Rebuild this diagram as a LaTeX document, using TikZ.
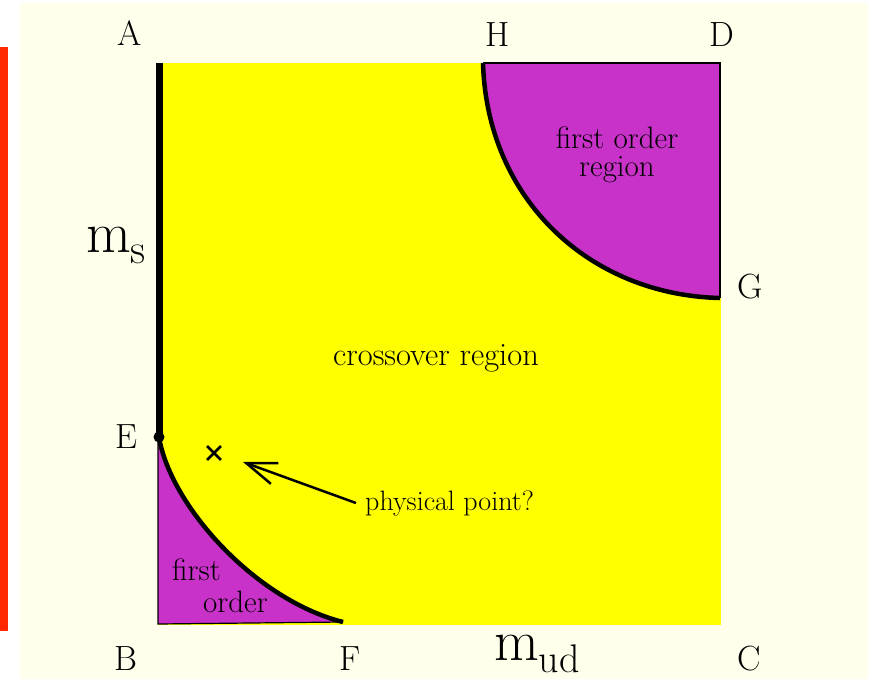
\documentclass[tikz,border=0pt]{standalone}
\usepackage{fontspec}
\usetikzlibrary{arrows.meta,shapes.misc}
\definecolor{cream}{RGB}{255,255,236}
\definecolor{redbar}{RGB}{255,40,0}
\definecolor{yel}{RGB}{255,255,0}
\definecolor{purp}{RGB}{200,50,200}
\tikzset{
  lbl/.style={inner sep=0pt,anchor=base,font=\fontsize{35}{38}\selectfont},
  txt/.style={inner sep=0pt,font=\fontsize{31}{32}\selectfont},
  bound/.style={line width=4.5pt},
  thin/.style={line width=1.2pt},
}
\begin{document}
\begin{tikzpicture}[x=1pt,y=-1pt]
\useasboundingbox (0,0) rectangle (877,679);
\fill[white] (0,0) rectangle (877,679);
\fill[cream] (20,3) rectangle (868,679);
\fill[redbar] (0,47) rectangle (8,631);
% corners
\coordinate (TL) at (158,63);
\coordinate (TR) at (720,63);
\coordinate (BR) at (720,624);
\coordinate (BL) at (158,624);
\coordinate (Hp) at (483,63);
\coordinate (Gp) at (720,298);
\coordinate (Ep) at (159,437);
\coordinate (El) at (158,437);
\coordinate (Fp) at (343,622);
\fill[yel] (158,63) rectangle (721,625);
% upper first order region
\fill[purp] (Hp) .. controls (487,200) and (590,295) .. (Gp) -- (TR) -- cycle;
\draw[thin] (Hp) -- (TR) -- (Gp);
\draw[bound] (Hp) .. controls (487,200) and (590,295) .. (Gp);
% lower first order region
\fill[purp] (Ep) .. controls (170,505) and (255,600) .. (Fp) -- (BL) -- (El) -- cycle;
\draw[thin] (Fp) -- (BL) -- (El);
\draw[bound] (Ep) .. controls (170,505) and (255,600) .. (Fp);
% left thick line
\draw[line width=7pt] (159.5,63) -- (159.5,437);
\fill (Ep) circle (5.5);
% labels
\node[lbl] (A) at (130,46) {A};
\node[lbl] (H) at (498,47) {H};
\node[lbl] (D) at (722,47) {D};
\node[lbl] (G) at (750,298) {G};
\node[lbl] (E) at (126,448) {E};
\node[lbl] (B) at (126,670) {B};
\node[lbl] (F) at (350,670) {F};
\node[lbl] (C) at (749,670) {C};
\node[inner sep=0pt,anchor=base west] (ms) at (86,252) {\fontsize{58}{58}\selectfont m\raisebox{-11pt}{\fontsize{42}{42}\selectfont s}};
\node[inner sep=0pt,anchor=base west] (mud) at (494,660) {\fontsize{58}{58}\selectfont m\raisebox{-12pt}{\fontsize{40}{40}\selectfont ud}};
\node[txt,anchor=base,font=\fontsize{32.5}{34}\selectfont] (cross) at (436,365) {crossover region};
\node[txt,anchor=base] (fo1) at (617,149) {first order};
\node[txt,anchor=base] (fo2) at (617,177) {region};
\node[txt,anchor=base west] (lf1) at (172,580) {first};
\node[txt,anchor=base west] (lf2) at (203,612) {order};
\node[txt,anchor=base west,font=\fontsize{28}{30}\selectfont] (phys) at (365,510) {physical point?};
\node[cross out,draw,line width=2.8pt,minimum size=11pt,inner sep=0pt] (xm) at (214,453) {};
\coordinate (tip) at (243,462);
\draw[line width=2.5pt,-{Straight Barb[length=30pt,width=22pt,line width=2.5pt]}] ([xshift=-9pt]phys.west) -- (tip);
\end{tikzpicture}
\end{document}
